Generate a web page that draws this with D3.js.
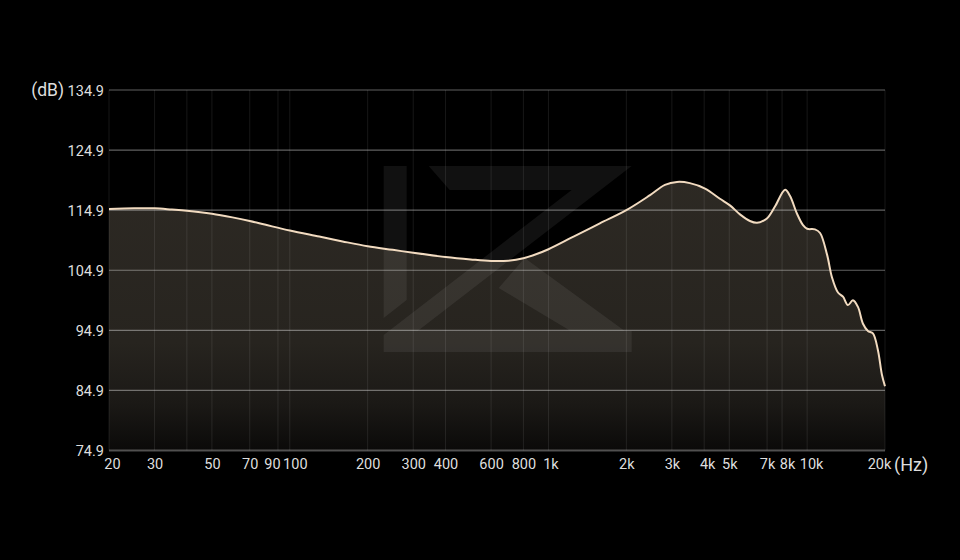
<!DOCTYPE html>
<html>
<head>
<meta charset="utf-8">
<script src="https://cdn.jsdelivr.net/npm/d3@7"></script>
<style>
  html, body { margin: 0; padding: 0; background: #000; }
  svg { display: block; }
  text { font-family: Roboto, "Noto Sans", sans-serif; fill: #dedede; }
</style>
</head>
<body>
<svg id="chart" width="960" height="560"></svg>
<script>
// ---- data ----
const freqs = [20, 25, 30, 35, 40, 50, 60, 70, 80, 100, 130, 160, 200, 250, 300, 400, 500, 600, 700, 800, 900, 1000, 1250, 1580, 2000, 2470, 2820, 3140, 3520, 4030, 4600, 5030, 5500, 6010, 6400, 6870, 7060, 7510, 8220, 8580, 9140, 9640, 10000, 10720, 11220, 11940, 12480, 13160, 13760, 14380, 15030, 15720, 16440, 17180, 17960, 18780, 19460, 20000];
const spl = [115.1, 115.2, 115.2, 115.0, 114.8, 114.3, 113.7, 113.1, 112.5, 111.5, 110.5, 109.7, 108.9, 108.3, 107.8, 107.1, 106.7, 106.45, 106.5, 106.9, 107.6, 108.4, 110.5, 112.7, 114.9, 117.4, 119.1, 119.6, 119.4, 118.5, 116.8, 115.7, 114.2, 113.1, 112.8, 113.3, 113.7, 115.5, 118.3, 117.3, 114.3, 112.4, 111.8, 111.7, 111.1, 107.5, 103.7, 101.2, 100.5, 99.1, 99.9, 98.8, 96.0, 94.8, 94.4, 91.6, 87.5, 85.6];
const yTicks = [74.9, 84.9, 94.9, 104.9, 114.9, 124.9, 134.9];
const xGrid = [20, 30, 40, 50, 70, 90, 100, 200, 300, 400, 600, 800, 1000, 2000, 3000, 4000, 5000, 7000, 8000, 10000, 20000];
const xLabels = ["20", "30", "", "50", "70", "90", "100", "200", "300", "400", "600", "800", "1k", "2k", "3k", "4k", "5k", "7k", "8k", "10k", "20k"];

// ---- layout ----
const W = 960, H = 560;
const mLeft = 109, mRight = 885, mTop = 90, mBottom = 450.5;

const svg = d3.select("#chart");
svg.append("rect").attr("width", W).attr("height", H).attr("fill", "#000");

const x = d3.scaleLog().domain([20, 20000]).range([mLeft, mRight]);
const y = d3.scaleLinear().domain([74.9, 134.9]).range([mBottom, mTop]);

const defs = svg.append("defs");
const grad = defs.append("linearGradient").attr("id", "fillGrad")
  .attr("gradientUnits", "userSpaceOnUse")
  .attr("x1", 0).attr("x2", 0).attr("y1", mTop).attr("y2", mBottom);
grad.append("stop").attr("offset", "0%").attr("stop-color", "#302c26");
grad.append("stop").attr("offset", "70%").attr("stop-color", "#27241f");
grad.append("stop").attr("offset", "87%").attr("stop-color", "#1b1916");
grad.append("stop").attr("offset", "100%").attr("stop-color", "#0b0a09");

const pts = freqs.map((f, i) => [f, spl[i]]);
const curve = d3.curveCatmullRom.alpha(0.5);

// area fill
const area = d3.area()
  .x(d => x(d[0]))
  .y0(mBottom)
  .y1(d => y(d[1]))
  .curve(curve);
svg.append("path").datum(pts).attr("d", area).attr("fill", "url(#fillGrad)");

// watermark logo (decorative), one path so overlaps are not doubled
const logoShapes = [
  // left bar
  [[0,0],[23,0],[23,134],[0,152]],
  // Z: top bar, diagonal, bottom bar
  [[45,0],[248,0],[34,165],[248,165],[248,186],[0,186],[0,169],[188,24],[66,24]],
  // K leg
  [[115,122],[141,92],[248,170],[248,186],[222,186]]
];
svg.append("path")
  .attr("transform", `translate(${x(200) + 16},${y(134.9) + 76})`)
  .attr("d", logoShapes.map(s => "M" + s.map(p => p.join(",")).join("L") + "Z").join(""))
  .attr("fill", "#ffffff").attr("fill-opacity", 0.065);

// vertical grid
svg.append("g").selectAll("line").data(xGrid).join("line")
  .attr("x1", d => x(d)).attr("x2", d => x(d))
  .attr("y1", mTop).attr("y2", mBottom)
  .attr("stroke", "#ffffff").attr("stroke-opacity", 0.09).attr("stroke-width", 1);

// horizontal grid
svg.append("g").selectAll("line").data(yTicks).join("line")
  .attr("x1", mLeft).attr("x2", mRight)
  .attr("y1", d => y(d)).attr("y2", d => y(d))
  .attr("stroke", "#ffffff").attr("stroke-opacity", d => d === 74.9 ? 0.3 : 0.38)
  .attr("stroke-width", d => d === 74.9 ? 2 : 1.2);

// curve line
const line = d3.line()
  .x(d => x(d[0]))
  .y(d => y(d[1]))
  .curve(curve);
svg.append("path").datum(pts).attr("d", line)
  .attr("fill", "none").attr("stroke", "#f2dbc0").attr("stroke-width", 2);

// y axis labels
const yAxis = d3.axisLeft(y).tickValues(yTicks).tickFormat(d3.format(".1f")).tickSize(0).tickPadding(5);
const gy = svg.append("g").attr("transform", `translate(${mLeft},0)`).call(yAxis);
gy.select(".domain").remove();
gy.selectAll("text").attr("font-size", 14.5).attr("fill", "#dedede")
  .attr("font-family", "Roboto, sans-serif").attr("dy", "0.36em");

svg.append("text").attr("x", 64).attr("y", y(134.9)).attr("dy", "0.36em")
  .attr("text-anchor", "end").attr("font-size", 17.5).text("(dB)");

// x axis labels
const xNudge = { "20": 3, "90": -6, "100": 5, "1k": 2, "4k": 3, "8k": 5, "10k": 4, "20k": -6 };
const xAxis = d3.axisBottom(x).tickValues(xGrid)
  .tickFormat((d, i) => xLabels[i]).tickSize(0).tickPadding(8.5);
const gx = svg.append("g").attr("transform", `translate(0,${mBottom})`).call(xAxis);
gx.select(".domain").remove();
gx.selectAll("text").attr("font-size", 14.5).attr("fill", "#dedede")
  .attr("font-family", "Roboto, sans-serif")
  .attr("dx", (d, i) => (xNudge[xLabels[i]] || 0));

svg.append("text").attr("x", mRight + 9).attr("y", mBottom + 20)
  .attr("font-size", 18).text("(Hz)");
</script>
</body>
</html>
